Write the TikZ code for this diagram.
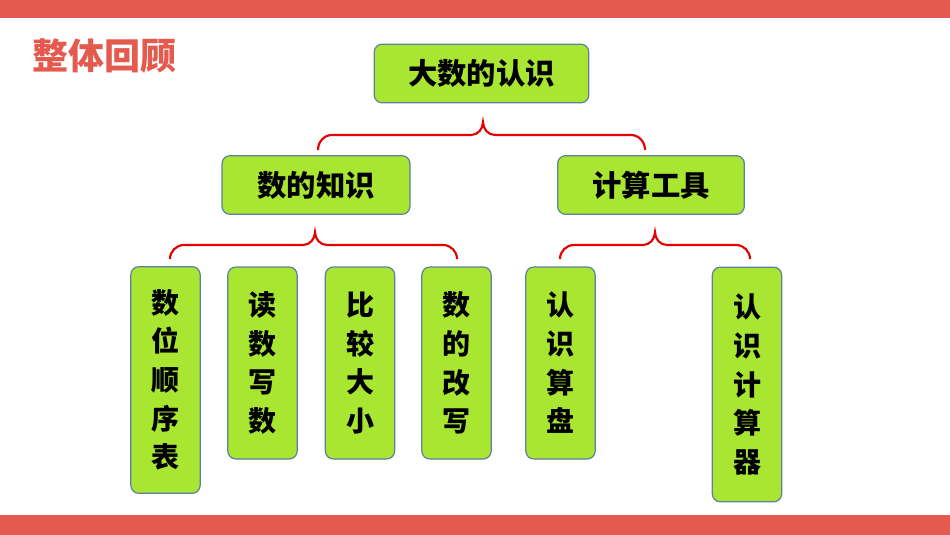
\documentclass[tikz,border=0pt]{standalone}
\usepackage{fontspec}
\newfontfamily\cjk{Noto Sans CJK SC}
\usetikzlibrary{positioning}
\definecolor{barred}{HTML}{E55A4E}
\definecolor{boxgreen}{HTML}{A8E631}
\definecolor{boxline}{HTML}{5E7F9E}
\tikzset{
  box/.style={draw=boxline,fill=boxgreen,rounded corners=6pt,line width=0.9pt,font=\cjk\bfseries\fontsize{22}{22}\selectfont,inner sep=0pt},
  vbox/.style={box,align=center,font=\cjk\bfseries\fontsize{21}{29}\selectfont},
  brace/.style={draw=red!90!black,line width=1.6pt}
}
\newcommand{\bracedraw}[5]{% left x, right x, apex x, apex y, end y
  \draw[brace] (#1,#5) to[out=90,in=180] (#1+14,#4+13) -- (#3-12,#4+13)
    to[out=0,in=-90] (#3,#4) to[out=-90,in=180] (#3+12,#4+13) -- (#2-14,#4+13)
    to[out=0,in=90] (#2,#5);}
\begin{document}
\begin{tikzpicture}[x=0.75pt,y=-0.75pt]
        \useasboundingbox (0,0) rectangle (950,535);
        \fill[barred] (0,0) rectangle (950,18);
        \fill[barred] (0,515) rectangle (950,535);
        \node[anchor=west,text=barred,font=\cjk\bfseries\fontsize{27}{27}\selectfont] (title) at (28,56) {整体回顾};
        % top level
        \node[box,minimum width=161pt,minimum height=44pt] (root) at (481.5,73.5) {大数的认识};
        \node[box,minimum width=141pt,minimum height=44pt] (know) at (316,185) {数的知识};
        \node[box,minimum width=140pt,minimum height=44pt] (tool) at (651,185) {计算工具};
        % leaves
        \node[vbox,minimum width=52pt,minimum height=170pt] (seq) at (165.5,380) {数\\位\\顺\\序\\表};
        \node[vbox,minimum width=52pt,minimum height=144pt] (read) at (262.5,363) {读\\数\\写\\数};
        \node[vbox,minimum width=52pt,minimum height=144pt] (cmp) at (360,363) {比\\较\\大\\小};
        \node[vbox,minimum width=52pt,minimum height=144pt] (rew) at (456.5,363) {数\\的\\改\\写};
        \node[vbox,minimum width=52pt,minimum height=144pt] (abac) at (560.5,363) {认\\识\\算\\盘};
        \node[vbox,minimum width=52pt,minimum height=176pt] (calc) at (747,384.5) {认\\识\\计\\算\\器};
        % braces
        \bracedraw{318}{645}{483}{122}{150}
        \bracedraw{170}{457}{315}{232}{259}
        \bracedraw{560}{750}{655}{232}{259}
      \end{tikzpicture}
\end{document}
